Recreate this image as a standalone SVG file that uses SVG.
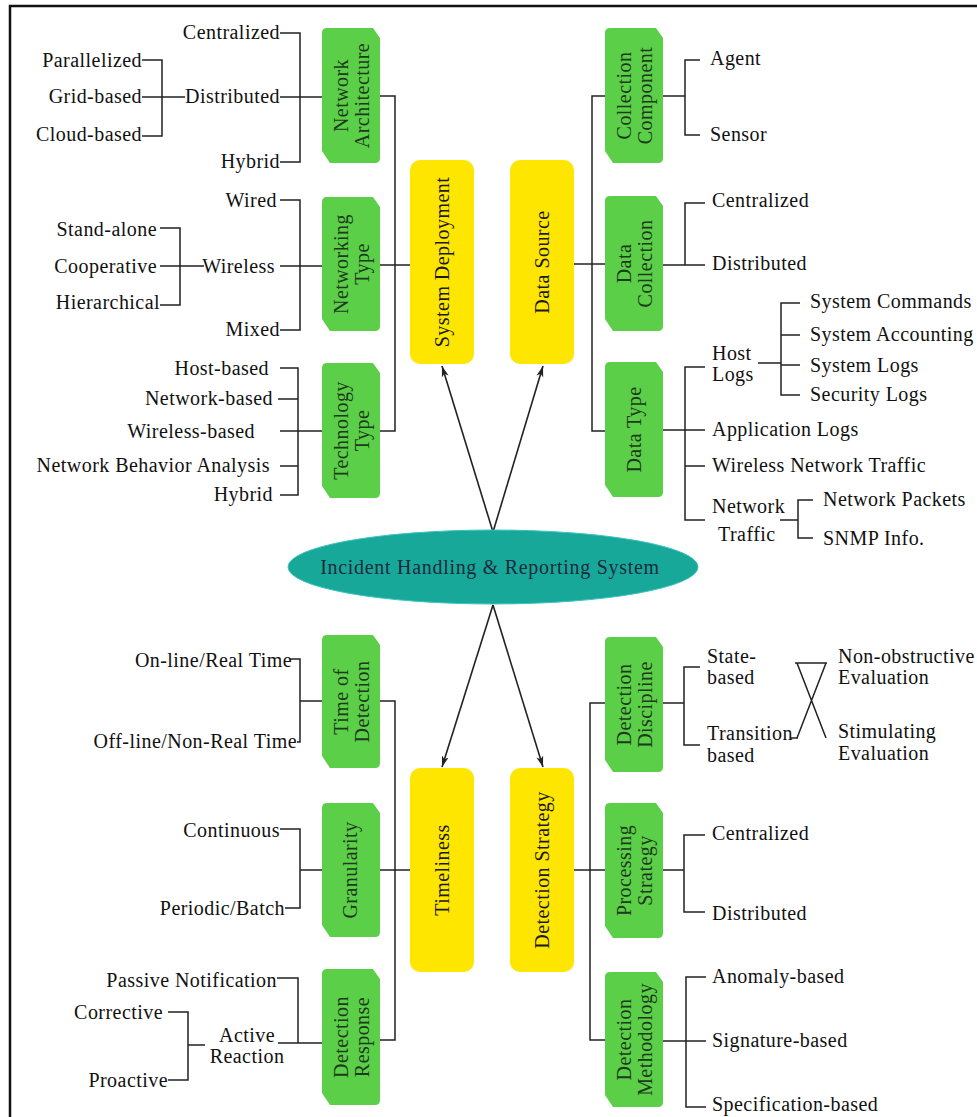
<svg xmlns="http://www.w3.org/2000/svg" width="977" height="1117" viewBox="0 0 977 1117" font-family="'Liberation Serif', 'DejaVu Serif', serif">
<defs>
<style>
.bg{fill:#ffffff}
.frame{fill:none;stroke:#111;stroke-width:2.5}
.ln{fill:none;stroke:#222;stroke-width:1.5}
.arr{fill:none;stroke:#222;stroke-width:1.6}
.g{fill:#5ccf48}
.y{fill:#ffe600}
.ell{fill:#17a89a;stroke:#3cc4c0;stroke-width:1}
text{font-family:'Liberation Serif','DejaVu Serif',serif;font-size:20px;fill:#111;letter-spacing:0.45px}
.e{text-anchor:end}
.m{text-anchor:middle}
.gt{text-anchor:middle;fill:#1d3a1d}
.yt{text-anchor:middle;fill:#1a1a1a}
.et{text-anchor:middle;fill:#1c2b3a;letter-spacing:0.7px}
</style>
<marker id="ah" markerUnits="userSpaceOnUse" markerWidth="12" markerHeight="10" refX="11" refY="4" orient="auto">
<path d="M0,0.5 L11,4 L0,7.5 L3,4 Z" fill="#222"/>
</marker>
</defs>
<rect class="bg" x="0" y="0" width="977" height="1117"/>
<path class="frame" d="M977,6 H10 V1117"/>

<g id="connectors">
<path class="ln" d="M380,96 H395 V431 H380 M380,265 H410"/>
<path class="ln" d="M605,96 H592 V431 H605 M574,264 H605"/>
<path class="ln" d="M380,701 H395 V1040 H380 M380,870 H410"/>
<path class="ln" d="M605,703 H590 V1040 H605 M574,870 H605"/>
<path class="ln" d="M280,33 H300 V162 H280 M280,97 H322 M142,60 H162 V136 H142 M142,97 H185"/>
<path class="ln" d="M280,200 H300 V330 H280 M280,266 H322 M160,228 H180 V305 H160 M160,266 H204"/>
<path class="ln" d="M280,368 H298 V495 H280 M278,399 H298 M280,431 H322 M280,466 H298"/>
<path class="ln" d="M663,96 H685 M700,60 H685 V135 H700"/>
<path class="ln" d="M663,265 H685 M705,203 H685 V265 H705"/>
<path class="ln" d="M663,430 H705 M705,367 H685 V520 H705 M685,466 H705"/>
<path class="ln" d="M758,363 H781 M800,303 H781 V395 H800 M781,335 H800 M781,365 H800"/>
<path class="ln" d="M780,520 H798 M813,500 H798 V538 H813"/>
<path class="ln" d="M663,703 H684 M700,667 H684 V745 H700"/>
<path class="ln" d="M795,663 H827 M797,663 L826,738 M826,663 L797,738 M790,738 H798"/>
<path class="ln" d="M663,870 H684 M705,835 H684 V912 H705"/>
<path class="ln" d="M663,1041 H706 M706,977 H686 V1107 H706"/>
<path class="ln" d="M290,659 H300 V742 H297 M300,701 H322"/>
<path class="ln" d="M280,829 H300 V908 H285 M300,870 H322"/>
<path class="ln" d="M277,978 H298 V1043 M278,1043 H322 M205,1045 H188 M168,1012 H188 V1080 H168"/>
<path class="arr" d="M493,532 L442,366" marker-end="url(#ah)"/>
<path class="arr" d="M493,532 L543,366" marker-end="url(#ah)"/>
<path class="arr" d="M493,605 L442,767" marker-end="url(#ah)"/>
<path class="arr" d="M493,605 L543,767" marker-end="url(#ah)"/>
</g>

<g id="center">
<ellipse class="ell" cx="493" cy="567" rx="205" ry="37"/>
<text class="et" x="490" y="574">Incident Handling &amp; Reporting System</text>
</g>

<g id="system-deployment">
<rect class="y" x="410" y="160" width="64" height="204" rx="10"/>
<text class="yt" transform="translate(442,262) rotate(-90)" x="0" y="7">System Deployment</text>
</g>
<g id="data-source">
<rect class="y" x="510" y="160" width="64" height="204" rx="10"/>
<text class="yt" transform="translate(542,262) rotate(-90)" x="0" y="7">Data Source</text>
</g>
<g id="timeliness">
<rect class="y" x="410" y="768" width="64" height="204" rx="10"/>
<text class="yt" transform="translate(442,870) rotate(-90)" x="0" y="7">Timeliness</text>
</g>
<g id="detection-strategy">
<rect class="y" x="510" y="768" width="64" height="204" rx="10"/>
<text class="yt" transform="translate(542,870) rotate(-90)" x="0" y="7">Detection Strategy</text>
</g>

<g id="network-architecture">
<path class="g" d="M327,28 H373 L380,38 V158 Q380,163 375,163 H330 L322,151 V33 Q322,28 327,28 Z"/>
<text class="gt" transform="translate(351,95.5) rotate(-90)"><tspan x="0" y="-3">Network</tspan><tspan x="0" y="18">Architecture</tspan></text>
</g>
<g id="networking-type">
<path class="g" d="M327,197 H373 L380,207 V326 Q380,331 375,331 H330 L322,319 V202 Q322,197 327,197 Z"/>
<text class="gt" transform="translate(351,264) rotate(-90)"><tspan x="0" y="-3">Networking</tspan><tspan x="0" y="18">Type</tspan></text>
</g>
<g id="technology-type">
<path class="g" d="M327,363 H373 L380,373 V493 Q380,498 375,498 H330 L322,486 V368 Q322,363 327,363 Z"/>
<text class="gt" transform="translate(351,430.5) rotate(-90)"><tspan x="0" y="-3">Technology</tspan><tspan x="0" y="18">Type</tspan></text>
</g>
<g id="time-of-detection">
<path class="g" d="M327,635 H373 L380,645 V763 Q380,768 375,768 H330 L322,756 V640 Q322,635 327,635 Z"/>
<text class="gt" transform="translate(351,701.5) rotate(-90)"><tspan x="0" y="-3">Time of</tspan><tspan x="0" y="18">Detection</tspan></text>
</g>
<g id="granularity">
<path class="g" d="M327,803 H373 L380,813 V932 Q380,937 375,937 H330 L322,925 V808 Q322,803 327,803 Z"/>
<text class="gt" transform="translate(351,870) rotate(-90)" x="0" y="6">Granularity</text>
</g>
<g id="detection-response">
<path class="g" d="M327,969 H373 L380,979 V1100 Q380,1105 375,1105 H330 L322,1093 V974 Q322,969 327,969 Z"/>
<text class="gt" transform="translate(351,1037) rotate(-90)"><tspan x="0" y="-3">Detection</tspan><tspan x="0" y="18">Response</tspan></text>
</g>

<g id="collection-component">
<path class="g" d="M610,28 H656 L663,38 V158 Q663,163 658,163 H613 L605,151 V33 Q605,28 610,28 Z"/>
<text class="gt" transform="translate(634,95.5) rotate(-90)"><tspan x="0" y="-3">Collection</tspan><tspan x="0" y="18">Component</tspan></text>
</g>
<g id="data-collection">
<path class="g" d="M610,196 H656 L663,206 V326 Q663,331 658,331 H613 L605,319 V201 Q605,196 610,196 Z"/>
<text class="gt" transform="translate(634,263.5) rotate(-90)"><tspan x="0" y="-3">Data</tspan><tspan x="0" y="18">Collection</tspan></text>
</g>
<g id="data-type">
<path class="g" d="M610,362 H656 L663,372 V492 Q663,497 658,497 H613 L605,485 V367 Q605,362 610,362 Z"/>
<text class="gt" transform="translate(634,429.5) rotate(-90)" x="0" y="7">Data Type</text>
</g>
<g id="detection-discipline">
<path class="g" d="M610,637 H656 L663,647 V767 Q663,772 658,772 H613 L605,760 V642 Q605,637 610,637 Z"/>
<text class="gt" transform="translate(634,704.5) rotate(-90)"><tspan x="0" y="-3">Detection</tspan><tspan x="0" y="18">Discipline</tspan></text>
</g>
<g id="processing-strategy">
<path class="g" d="M610,803 H656 L663,813 V933 Q663,938 658,938 H613 L605,926 V808 Q605,803 610,803 Z"/>
<text class="gt" transform="translate(634,870.5) rotate(-90)"><tspan x="0" y="-3">Processing</tspan><tspan x="0" y="18">Strategy</tspan></text>
</g>
<g id="detection-methodology">
<path class="g" d="M610,972 H656 L663,982 V1102 Q663,1107 658,1107 H613 L605,1095 V977 Q605,972 610,972 Z"/>
<text class="gt" transform="translate(634,1039.5) rotate(-90)"><tspan x="0" y="-3">Detection</tspan><tspan x="0" y="18">Methodology</tspan></text>
</g>

<g id="labels-left">
<text class="e" x="280" y="39">Centralized</text>
<text class="e" x="142" y="67">Parallelized</text>
<text class="e" x="142" y="103">Grid-based</text>
<text class="e" x="142" y="141">Cloud-based</text>
<text class="e" x="280" y="103">Distributed</text>
<text class="e" x="280" y="168">Hybrid</text>
<text class="e" x="277" y="207">Wired</text>
<text class="e" x="157" y="236">Stand-alone</text>
<text class="e" x="157" y="273">Cooperative</text>
<text class="e" x="275" y="273">Wireless</text>
<text class="e" x="160" y="309">Hierarchical</text>
<text class="e" x="280" y="336">Mixed</text>
<text class="e" x="269" y="375">Host-based</text>
<text class="e" x="273" y="405">Network-based</text>
<text class="e" x="255" y="438">Wireless-based</text>
<text class="e" x="270" y="472">Network Behavior Analysis</text>
<text class="e" x="273" y="501">Hybrid</text>
<text class="e" x="292" y="667">On-line/Real Time</text>
<text class="e" x="297" y="748">Off-line/Non-Real Time</text>
<text class="e" x="280" y="837">Continuous</text>
<text class="e" x="285" y="915">Periodic/Batch</text>
<text class="e" x="277" y="987">Passive Notification</text>
<text class="m" x="247" y="1042">Active</text>
<text class="m" x="247" y="1063">Reaction</text>
<text class="e" x="163" y="1019">Corrective</text>
<text class="e" x="168" y="1087">Proactive</text>
</g>

<g id="labels-right">
<text x="710" y="65">Agent</text>
<text x="710" y="141">Sensor</text>
<text x="712" y="207">Centralized</text>
<text x="712" y="270">Distributed</text>
<text x="712" y="360">Host</text>
<text x="712" y="381">Logs</text>
<text x="810" y="308">System Commands</text>
<text x="810" y="341">System Accounting</text>
<text x="810" y="372">System Logs</text>
<text x="810" y="401">Security Logs</text>
<text x="712" y="436">Application Logs</text>
<text x="712" y="472">Wireless Network Traffic</text>
<text x="712" y="513">Network</text>
<text x="718" y="541">Traffic</text>
<text x="823" y="506">Network Packets</text>
<text x="823" y="545">SNMP Info.</text>
<text x="707" y="663">State-</text>
<text x="707" y="684">based</text>
<text x="707" y="740">Transition</text>
<text x="707" y="762">based</text>
<text x="838" y="663">Non-obstructive</text>
<text x="838" y="684">Evaluation</text>
<text x="838" y="738">Stimulating</text>
<text x="838" y="760">Evaluation</text>
<text x="712" y="840">Centralized</text>
<text x="712" y="920">Distributed</text>
<text x="712" y="983">Anomaly-based</text>
<text x="712" y="1047">Signature-based</text>
<text x="712" y="1111">Specification-based</text>
</g>
</svg>
